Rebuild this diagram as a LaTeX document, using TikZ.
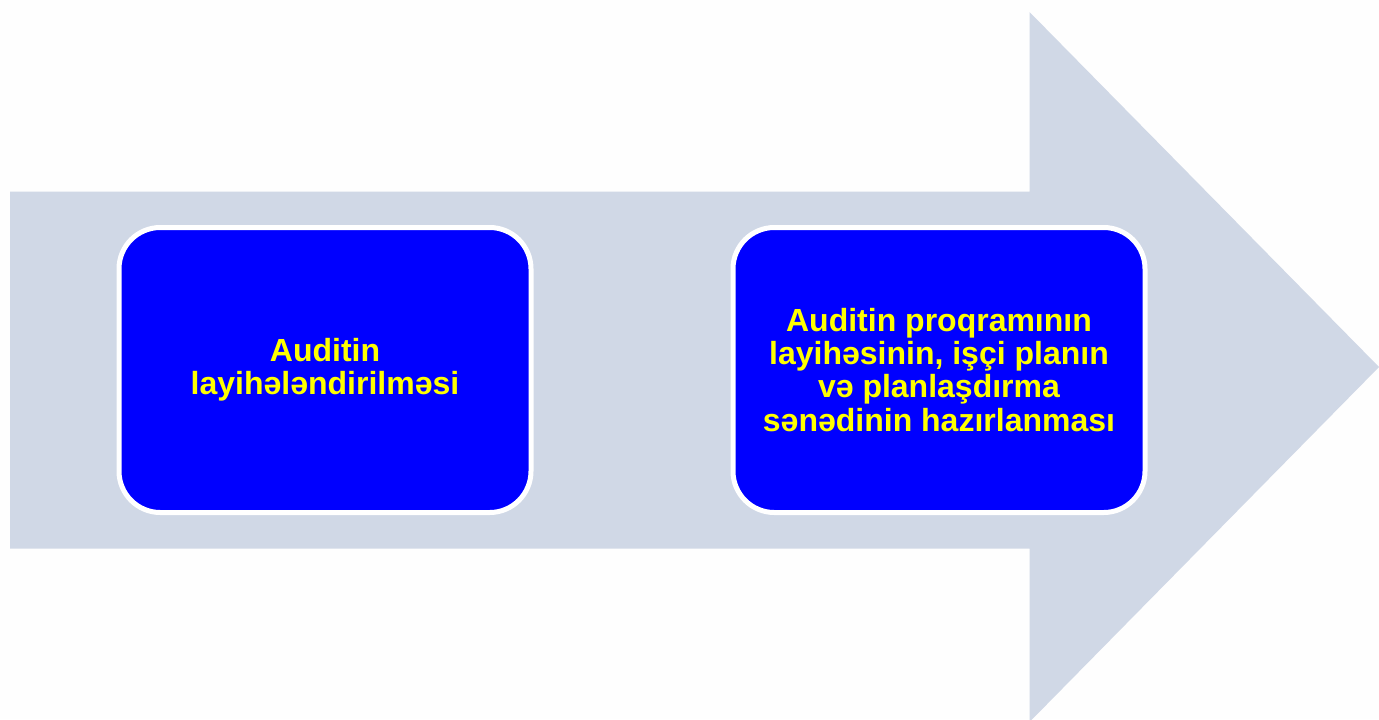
\documentclass[tikz,border=0pt]{standalone}
\usepackage{fontspec}
\setmainfont{Liberation Sans}
\definecolor{arrowgray}{RGB}{208,216,230}
\definecolor{boxblue}{RGB}{0,0,255}
\definecolor{boxyellow}{RGB}{255,255,0}
\definecolor{pagebg}{RGB}{254,254,254}
\begin{document}
\begin{tikzpicture}[x=0.75pt,y=-0.75pt,
  stepbox/.style={draw=white, line width=3.75pt, fill=boxblue,
    rounded corners=31pt, minimum width=309pt, minimum height=213.75pt,
    text=boxyellow, align=center, inner sep=0pt,
    font=\bfseries\fontsize{24}{24.8}\selectfont}]
  % page
  \fill[pagebg] (0,0) rectangle (1379,719);
  \useasboundingbox (0,0) rectangle (1379,719);
  % big block arrow
  \fill[arrowgray] (10,191.5) -- (1029.5,191.5) -- (1029.5,12) -- (1379,367)
    -- (1029.5,722) -- (1029.5,548.5) -- (10,548.5) -- cycle;
  % process steps
  \node[stepbox] (design) at (325,370) {Auditin\\layihələndirilməsi};
  \node[stepbox] (plan) at (939,370) {Auditin proqramının\\layihəsinin, işçi planın\\və planlaşdırma\\sənədinin hazırlanması};
\end{tikzpicture}
\end{document}
